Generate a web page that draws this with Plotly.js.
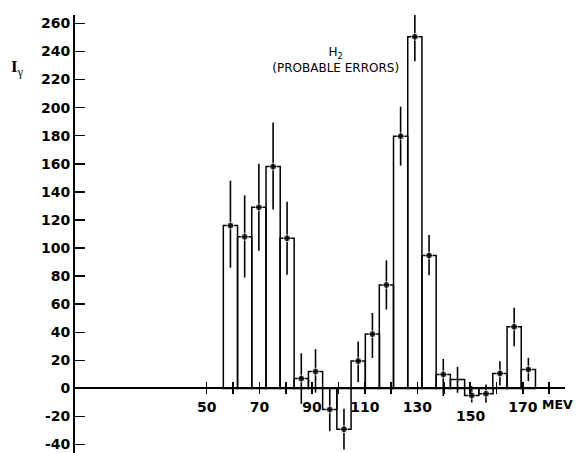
<!DOCTYPE html>
<html>
<head>
<meta charset="utf-8">
<script src="https://cdn.plot.ly/plotly-3.0.1.min.js"></script>
<style>html,body{margin:0;padding:0;background:#fff;}#chart{width:577px;height:453px;}</style>
</head>
<body>
<div id="chart"></div>
<script>
// Bin centres (MeV)
const energy = [59.0, 64.4, 69.8, 75.2, 80.5, 85.9, 91.3, 96.7, 102.1, 107.5, 112.9,
                118.2, 123.6, 129.0, 134.4, 139.8, 145.2, 150.6, 156.0, 161.3, 166.7, 172.1];
// Intensity I_gamma per bin
const intensity = [116, 108, 129, 158, 107, 7, 12, -15, -29, 19.5, 38.7,
                   73.7, 179.7, 250.5, 94.7, 10, 6.4, -5, -3.8, 10.7, 43.9, 13.5];
// Probable errors (upper / lower)
const errPlus  = [32, 29.5, 31, 31.5, 26, 18, 16, 16, 14.5, 14, 15,
                  17.5, 21, 18, 14.5, 11, 9, 6.6, 6.6, 8.7, 13.6, 8.3];
const errMinus = [30, 29, 31, 30.5, 26, 18, 15, 15.5, 14.5, 15, 17,
                  17.5, 21, 17.5, 14, 15.5, 9.5, 5, 6.4, 8.6, 13.8, 8.3];
// whether a dot is drawn on the bin
const hasDot = [1,1,1,1,1,1,1,1,1,1,1,1,1,1,1,1,0,1,1,1,1,1];
const binWidth = 5.39;

const xTickVals = [50, 60, 70, 80, 90, 100, 110, 120, 130, 140, 150, 160, 170, 180];
const xLabelVals = [50, 70, 90, 110, 130, 170];
const xLabelText = ['50', '70', '90', '110', '130', '170'];
const yTickVals = [-40, -20, 0, 20, 40, 60, 80, 100, 120, 140, 160, 180, 200, 220, 240, 260];
const yTickText = ['-40', '-20', '0', '20', '40', '60', '80', '100', '120', '140', '160', '180', '200', '220', '240', '260'];
const lowLabel = {x: 150, text: '150'};
const unitLabel = {text: 'MEV'};

const labFont = {family: 'DejaVu Sans', size: 14, color: '#000', weight: 'bold'};

const traces = [
  {
    type: 'bar', x: energy, y: intensity, width: binWidth,
    marker: {color: 'rgba(255,255,255,0)', line: {color: '#000', width: 1.5}},
    hoverinfo: 'skip', showlegend: false, xaxis: 'x', yaxis: 'y'
  },
  {
    type: 'scatter', mode: 'markers', x: energy, y: intensity,
    marker: {color: '#000', size: hasDot.map(d => d ? 7 : 0)},
    error_y: {type: 'data', symmetric: false, array: errPlus, arrayminus: errMinus,
              color: '#000', thickness: 1.6, width: 0},
    showlegend: false, xaxis: 'x2', yaxis: 'y', cliponaxis: false
  }
];

const axPos = 46 / 312;
const tickHalf = 6 / 438;
const layout = {
  width: 577, height: 453,
  margin: {l: 75, r: 12, t: 15, b: 0},
  paper_bgcolor: '#fff', plot_bgcolor: '#fff',
  showlegend: false,
  bargap: 0,
  title: {
    text: 'H<sub>2</sub><br>(PROBABLE ERRORS)',
    font: {family: 'DejaVu Sans', size: 12, color: '#000'},
    x: 307 / 577, xanchor: 'center', xref: 'paper',
    y: 1 - 56 / 453, yanchor: 'middle', yref: 'container'
  },
  xaxis: {
    range: [0, 186], anchor: 'free', position: axPos,
    showgrid: false, zeroline: false,
    showline: true, linecolor: '#000', linewidth: 2,
    tickmode: 'array', tickvals: xLabelVals, ticktext: xLabelText,
    ticks: 'outside', ticklen: 6, tickwidth: 1, tickcolor: 'rgba(0,0,0,0)',
    tickfont: labFont
  },
  xaxis2: {
    range: [0, 186], overlaying: 'x', matches: 'x', anchor: 'free', position: axPos - tickHalf,
    showgrid: false, zeroline: false, showline: false,
    tickmode: 'array', tickvals: xTickVals, showticklabels: false,
    ticks: 'inside', ticklen: 12, tickwidth: 1.5, tickcolor: '#000'
  },
  yaxis: {
    range: [-46, 266],
    showgrid: false, zeroline: false,
    showline: true, linecolor: '#000', linewidth: 2,
    tickmode: 'array', tickvals: yTickVals, ticktext: yTickText,
    ticks: 'inside', ticklen: 10, tickwidth: 1.5, tickcolor: '#000',
    tickfont: labFont
  },
  annotations: [
    {x: lowLabel.x, y: 0, xref: 'x', yref: 'y', text: lowLabel.text, showarrow: false,
     yanchor: 'middle', yshift: -28, font: labFont},
    {x: 1.0204, y: 0, xref: 'paper', yref: 'y', text: unitLabel.text, showarrow: false,
     xanchor: 'right', yanchor: 'middle', yshift: -16,
     font: {family: 'DejaVu Sans', size: 12.5, color: '#000', weight: 'bold'}},
    {x: (9 - 75) / 490, y: (453 - 55) / 438, xref: 'paper', yref: 'paper',
     text: '<b>I</b><sub>γ</sub>', showarrow: false,
     font: {family: 'Liberation Serif', size: 17, color: '#000'}}
  ]
};

Plotly.newPlot('chart', traces, layout, {displayModeBar: false, staticPlot: true});
</script>
</body>
</html>
